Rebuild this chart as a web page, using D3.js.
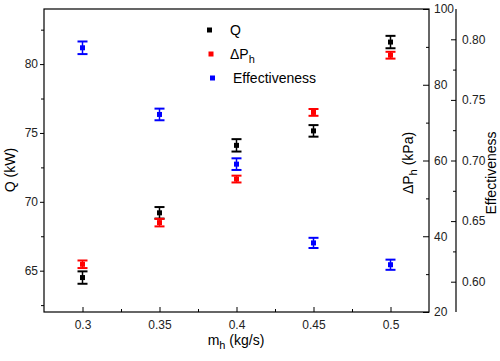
<!DOCTYPE html>
<html>
<head>
<meta charset="utf-8">
<script src="https://cdn.jsdelivr.net/npm/d3@7"></script>
<style>
body { margin: 0; background: #fff; }
text { font-family: Arial, "Liberation Sans", sans-serif; }
</style>
</head>
<body>
<script>
// data
var mh = [0.3, 0.35, 0.4, 0.45, 0.5];
var qVals = [64.5, 69.2, 74.1, 75.15, 81.6];
var qErr = [0.45, 0.42, 0.45, 0.42, 0.45];
var dpVals = [32.6, 43.6, 55.1, 72.7, 87.8];
var dpErr = [1.0, 1.0, 0.9, 0.9, 0.9];
var effVals = [0.793, 0.738, 0.697, 0.632, 0.614];
var effErr = [0.0052, 0.0048, 0.0048, 0.0042, 0.0042];
var xTicks = [0.3, 0.35, 0.4, 0.45, 0.5];

var w = 500, h = 361;
var padL = 44, padR = 429, padT = 9, padB = 312, effX = 456;

var svg = d3.select("body").append("svg")
    .attr("width", w)
    .attr("height", h);

var x = d3.scaleLinear().domain([0.275, 0.525]).range([padL, padR]);
var yQ = d3.scaleLinear().domain([62, 84]).range([padB, padT]);
var yP = d3.scaleLinear().domain([20, 100]).range([padB, padT]);
var yE = d3.scaleLinear().domain([0.575, 0.825]).range([padB, padT]);

//frame
svg.append("rect")
    .attr("x", padL).attr("y", padT)
    .attr("width", padR - padL).attr("height", padB - padT)
    .attr("fill", "none").attr("stroke", "#000").attr("stroke-width", 1.2);

function styleAxis(g) {
    g.select(".domain").remove();
    g.selectAll("line").attr("stroke", "#000").attr("stroke-width", 1);
    g.selectAll("text").attr("font-size", 12).attr("fill", "#222");
}

//bottom axis, ticks inside
svg.append("g").attr("transform", "translate(0," + padB + ")")
    .call(d3.axisBottom(x).tickValues(xTicks).tickFormat(d3.format("")).tickSizeInner(-5).tickPadding(8))
    .call(styleAxis);
svg.append("g").attr("transform", "translate(0," + padB + ")")
    .call(d3.axisBottom(x).tickValues([0.325, 0.375, 0.425, 0.475]).tickFormat("").tickSizeInner(-3).tickSizeOuter(0))
    .call(styleAxis);

//left axis
svg.append("g").attr("transform", "translate(" + padL + ",0)")
    .call(d3.axisLeft(yQ).tickValues([65, 70, 75, 80]).tickSizeInner(4).tickPadding(2))
    .call(styleAxis);
svg.append("g").attr("transform", "translate(" + padL + ",0)")
    .call(d3.axisLeft(yQ).tickValues([62.5, 67.5, 72.5, 77.5, 82.5]).tickFormat("").tickSizeInner(3).tickSizeOuter(0))
    .call(styleAxis);

//pressure axis on right side of frame
svg.append("g").attr("transform", "translate(" + padR + ",0)")
    .call(d3.axisRight(yP).tickValues([20, 40, 60, 80, 100]).tickSizeInner(-6).tickPadding(5))
    .call(styleAxis);
svg.append("g").attr("transform", "translate(" + padR + ",0)")
    .call(d3.axisRight(yP).tickValues([30, 50, 70, 90]).tickFormat("").tickSizeInner(-3).tickSizeOuter(0))
    .call(styleAxis);

//effectiveness axis
svg.append("line")
    .attr("x1", effX).attr("x2", effX).attr("y1", padT).attr("y2", padB)
    .attr("stroke", "#000").attr("stroke-width", 1.2);
svg.append("g").attr("transform", "translate(" + effX + ",0)")
    .call(d3.axisRight(yE).tickValues([0.6, 0.65, 0.7, 0.75, 0.8]).tickFormat(d3.format(".2f")).tickSizeInner(-5).tickPadding(6))
    .call(styleAxis);
svg.append("g").attr("transform", "translate(" + effX + ",0)")
    .call(d3.axisRight(yE).tickValues([0.625, 0.675, 0.725, 0.775]).tickFormat("").tickSizeInner(-3).tickSizeOuter(0))
    .call(styleAxis);

//axis titles
svg.append("text")
    .attr("transform", "translate(15,170) rotate(-90)")
    .attr("text-anchor", "middle").attr("font-size", 14)
    .text("Q (kW)");

var tp = svg.append("text")
    .attr("transform", "translate(413,163) rotate(-90)")
    .attr("text-anchor", "middle").attr("font-size", 14);
tp.append("tspan").text("\u0394P");
tp.append("tspan").attr("font-size", 11).attr("dy", 4).text("h");
tp.append("tspan").attr("dy", -4).text(" (kPa)");

svg.append("text")
    .attr("transform", "translate(496,173) rotate(-90)")
    .attr("text-anchor", "middle").attr("font-size", 14)
    .text("Effectiveness");

var tx = svg.append("text")
    .attr("x", 236).attr("y", 345)
    .attr("text-anchor", "middle").attr("font-size", 14);
tx.append("tspan").text("m");
tx.append("tspan").attr("font-size", 11).attr("dy", 4).text("h");
tx.append("tspan").attr("dy", -4).text(" (kg/s)");

//series
var series = [
    { vals: qVals, err: qErr, y: yQ, color: "#000" },
    { vals: dpVals, err: dpErr, y: yP, color: "#ff0000" },
    { vals: effVals, err: effErr, y: yE, color: "#0000ff" }
];

series.forEach(function(s) {
    var g = svg.append("g");
    var pts = mh.map(function(m, i) { return { x: m, v: s.vals[i], e: s.err[i] }; });
    var bars = g.selectAll("g").data(pts).enter().append("g");
    bars.append("line")
        .attr("x1", d => x(d.x)).attr("x2", d => x(d.x))
        .attr("y1", d => s.y(d.v - d.e)).attr("y2", d => s.y(d.v + d.e))
        .attr("stroke", s.color).attr("stroke-width", 1.5);
    [-1, 1].forEach(function(k) {
        bars.append("line")
            .attr("x1", d => x(d.x) - 5).attr("x2", d => x(d.x) + 5)
            .attr("y1", d => s.y(d.v + k * d.e)).attr("y2", d => s.y(d.v + k * d.e))
            .attr("stroke", s.color).attr("stroke-width", 2);
    });
    bars.append("rect")
        .attr("x", d => x(d.x) - 2.5).attr("y", d => s.y(d.v) - 2.5)
        .attr("width", 5).attr("height", 5)
        .attr("fill", s.color);
});

//legend
var legend = [
    { label: "Q", color: "#000", y: 30 },
    { label: "\u0394P", sub: "h", color: "#ff0000", y: 54 },
    { label: "Effectiveness", color: "#0000ff", y: 78 }
];
legend.forEach(function(l, i) {
    svg.append("rect")
        .attr("x", 207 + i * 1.5).attr("y", l.y - 2.5)
        .attr("width", 5).attr("height", 5).attr("fill", l.color);
    var t = svg.append("text")
        .attr("x", 230 + (i == 2 ? 3 : 0)).attr("y", l.y + 5)
        .attr("font-size", 14);
    t.append("tspan").text(l.label);
    if (l.sub) t.append("tspan").attr("font-size", 11).attr("dy", 4).text(l.sub);
});
</script>
</body>
</html>
